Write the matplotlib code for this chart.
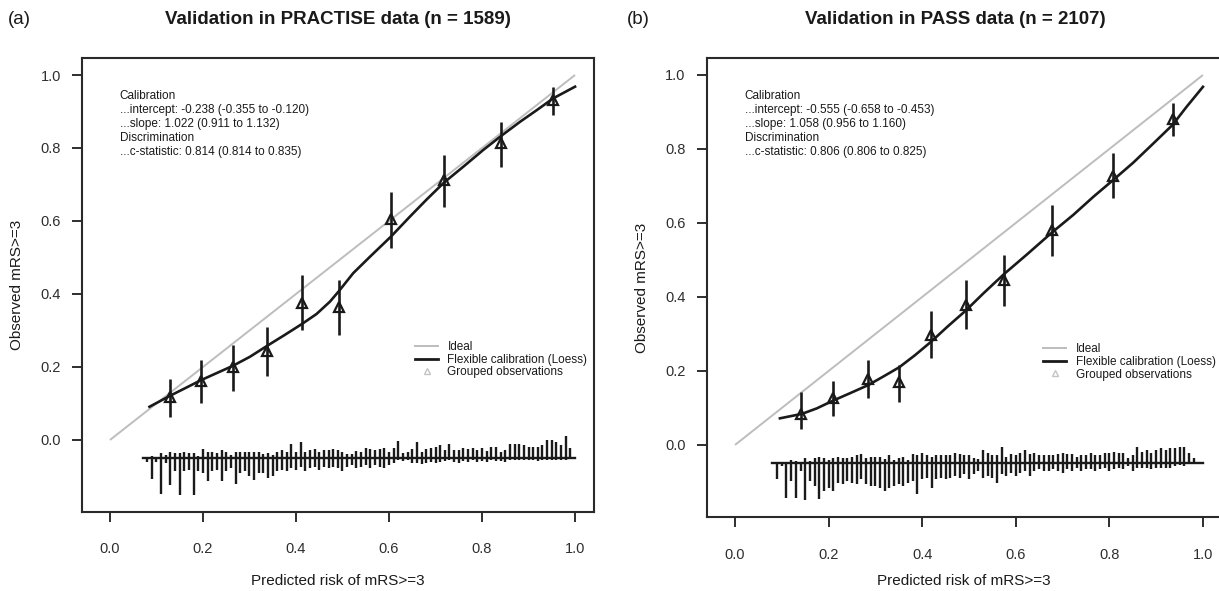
import numpy as np
import matplotlib
matplotlib.use("Agg")
import matplotlib.pyplot as plt
from matplotlib.lines import Line2D

plt.rcParams['font.family'] = ['Liberation Sans', 'DejaVu Sans']

# ---------------- Panel (a): PRACTISE ----------------
a_title = "Validation in PRACTISE data (n = 1589)"
a_stats = ["Calibration",
           "...intercept: -0.238 (-0.355 to -0.120)",
           "...slope: 1.022 (0.911 to 1.132)",
           "Discrimination",
           "...c-statistic: 0.814 (0.814 to 0.835)"]
a_grp_x = [0.129, 0.196, 0.264, 0.338, 0.413, 0.493, 0.604, 0.718, 0.841, 0.953]
a_grp_y = [0.119, 0.162, 0.199, 0.245, 0.374, 0.365, 0.605, 0.712, 0.813, 0.932]
a_grp_lo = [0.064, 0.102, 0.135, 0.175, 0.301, 0.288, 0.525, 0.639, 0.749, 0.890]
a_grp_hi = [0.167, 0.219, 0.260, 0.310, 0.452, 0.438, 0.680, 0.781, 0.872, 0.968]
a_loess_x = [0.085, 0.129, 0.165, 0.196, 0.229, 0.264, 0.301, 0.338, 0.376, 0.413,
             0.444, 0.473, 0.493, 0.523, 0.559, 0.604, 0.645, 0.681, 0.718, 0.760,
             0.803, 0.841, 0.882, 0.918, 0.953, 1.000]
a_loess_y = [0.091, 0.121, 0.144, 0.164, 0.183, 0.203, 0.228, 0.258, 0.288, 0.318,
             0.345, 0.379, 0.409, 0.457, 0.502, 0.557, 0.612, 0.659, 0.705, 0.749,
             0.795, 0.833, 0.872, 0.904, 0.936, 0.968]
a_bins = np.round(np.arange(0.08, 0.995, 0.01), 2)
a_events = [0, 7, 0, 15, 10, 20, 15, 15, 20, 15, 15, 8, 28, 20, 20, 15, 25, 20, 10, 20,
            18, 18, 20, 20, 20, 12, 15, 10, 20, 25, 20, 42, 20, 48, 20, 25, 27, 20, 25, 25,
            28, 25, 20, 12, 12, 22, 18, 32, 27, 25, 27, 30, 20, 32, 52, 15, 20, 27, 48, 20,
            28, 32, 35, 40, 25, 42, 25, 25, 30, 28, 30, 25, 30, 22, 35, 35, 20, 25, 42, 42,
            42, 40, 35, 35, 35, 40, 55, 55, 48, 40, 68, 32]
a_nonevents = [10, 63, 10, 108, 15, 80, 40, 110, 40, 35, 110, 40, 45, 70, 40, 35, 70, 40, 30, 78,
               45, 40, 55, 65, 45, 45, 60, 55, 40, 35, 40, 28, 35, 25, 38, 30, 25, 35, 25, 30,
               25, 28, 40, 25, 20, 30, 25, 20, 30, 20, 25, 28, 20, 15, 5, 8, 5, 15, 15, 18,
               15, 10, 15, 10, 8, 5, 10, 15, 8, 10, 5, 10, 8, 10, 5, 8, 8, 10, 5, 5,
               5, 5, 5, 5, 8, 5, 5, 5, 5, 5, 5, 2]

# ---------------- Panel (b): PASS ----------------
b_title = "Validation in PASS data (n = 2107)"
b_stats = ["Calibration",
           "...intercept: -0.555 (-0.658 to -0.453)",
           "...slope: 1.058 (0.956 to 1.160)",
           "Discrimination",
           "...c-statistic: 0.806 (0.806 to 0.825)"]
b_grp_x = [0.142, 0.210, 0.285, 0.351, 0.419, 0.493, 0.575, 0.677, 0.808, 0.935]
b_grp_y = [0.085, 0.127, 0.179, 0.170, 0.298, 0.379, 0.446, 0.581, 0.727, 0.881]
b_grp_lo = [0.043, 0.079, 0.127, 0.115, 0.235, 0.314, 0.376, 0.512, 0.667, 0.834]
b_grp_hi = [0.142, 0.172, 0.230, 0.217, 0.361, 0.447, 0.513, 0.648, 0.788, 0.925]
b_loess_x = [0.096, 0.143, 0.175, 0.210, 0.246, 0.285, 0.317, 0.351, 0.385, 0.419,
             0.456, 0.493, 0.531, 0.575, 0.623, 0.677, 0.723, 0.766, 0.808, 0.851,
             0.894, 0.935, 0.965, 1.000]
b_loess_y = [0.072, 0.084, 0.099, 0.120, 0.140, 0.162, 0.185, 0.210, 0.243, 0.279,
             0.322, 0.363, 0.410, 0.462, 0.514, 0.574, 0.622, 0.671, 0.716, 0.763,
             0.815, 0.865, 0.914, 0.968]
b_bins = np.round(np.arange(0.09, 0.995, 0.01), 2)
b_events = [0, 5, 5, 10, 8, 5, 15, 8, 15, 20, 15, 10, 15, 20, 15, 15, 20, 25, 28, 15,
            20, 18, 20, 12, 25, 10, 15, 20, 10, 28, 25, 30, 25, 20, 25, 25, 25, 25, 30, 28,
            25, 25, 15, 12, 40, 30, 25, 25, 50, 20, 28, 25, 30, 40, 28, 30, 25, 25, 25, 25,
            28, 30, 28, 28, 20, 25, 25, 30, 25, 25, 30, 30, 35, 30, 30, 15, 25, 50, 35, 40,
            30, 40, 45, 40, 45, 45, 50, 50, 30, 15, 5]
b_nonevents = [48, 8, 103, 53, 105, 23, 111, 53, 68, 108, 83, 73, 83, 58, 63, 53, 58, 63, 48, 63,
               68, 68, 73, 83, 73, 68, 63, 68, 58, 53, 91, 48, 43, 73, 48, 43, 48, 43, 38, 43,
               33, 48, 33, 23, 43, 38, 43, 58, 33, 38, 28, 38, 28, 23, 38, 23, 18, 23, 23, 18,
               23, 28, 18, 23, 13, 23, 18, 18, 23, 18, 13, 23, 18, 13, 18, 8, 23, 13, 13, 13,
               18, 13, 13, 13, 13, 8, 6, 8, 3, 3, 1]

legend_labels = ["Ideal", "Flexible calibration (Loess)", "Grouped observations"]
x_ticks = [0.0, 0.2, 0.4, 0.6, 0.8, 1.0]
y_ticks = [0.0, 0.2, 0.4, 0.6, 0.8, 1.0]
x_label = "Predicted risk of mRS>=3"
y_label = "Observed mRS>=3"

INK = "#1a1a1a"
TICKINK = "#2e2e2e"
IDEAL = "#bdbdbd"

fig = plt.figure(figsize=(12.19, 5.91), dpi=100)
ax_a = fig.add_axes([0.0670, 0.1345, 0.4203, 0.767])
ax_b = fig.add_axes([0.5796, 0.1244, 0.4229, 0.7775])


def draw(ax, gx, gy, glo, ghi, lx, ly, bins, ev, nev, stats, leg_anchor, stat_y, xlab_y):
    ax.plot([0, 1], [0, 1], color=IDEAL, lw=1.4, solid_capstyle='butt', zorder=1)
    ax.plot(lx, ly, color=INK, lw=1.9, zorder=3)
    ax.vlines(gx, glo, ghi, color=INK, lw=1.9, zorder=3)
    ax.plot(gx, gy, ls='none', marker='^', mfc='none', mec=INK, ms=7.5, mew=1.6, zorder=4)
    f1 = np.array(ev, dtype=float)
    f0 = np.array(nev, dtype=float)
    m = max(f1.max(), f0.max())
    base = -0.05
    ax.vlines(bins, base, base + 0.1 * f1 / m, color=INK, lw=1.7)
    ax.vlines(bins, base, base - 0.1 * f0 / m, color=INK, lw=1.7)
    ax.plot([bins[0] - 0.01, bins[-1] + 0.01], [base, base], color=INK, lw=1.7)

    ax.set_xlim(-0.0608, 1.0408)
    ax.set_ylim(-0.196, 1.046)
    ax.set_xticks(x_ticks)
    ax.set_yticks(y_ticks)
    ax.set_xticklabels([f"{t:.1f}" for t in x_ticks])
    ax.set_yticklabels([f"{t:.1f}" for t in y_ticks])
    ax.tick_params(direction='out', length=7, width=1.4, labelsize=10.5,
                   colors=TICKINK)
    ax.tick_params(axis='x', pad=15)
    ax.tick_params(axis='y', pad=8)
    for s in ax.spines.values():
        s.set_linewidth(1.5)
        s.set_color("#2a2a2a")
    ax.set_xlabel(x_label, fontsize=11, color=INK)
    ax.xaxis.set_label_coords(0.5, xlab_y)
    ax.set_ylabel(y_label, fontsize=11, color=INK, labelpad=12)

    for i, line in enumerate(stats):
        ax.annotate(line, xy=(0.021, stat_y), xycoords='data',
                    xytext=(0, -i * 10.1), textcoords='offset points',
                    fontsize=8.5, color=INK, va='center', ha='left')

    handles = [Line2D([], [], color=IDEAL, lw=1.4),
               Line2D([], [], color=INK, lw=2.0),
               Line2D([], [], ls='none', marker='^', mfc='none', mec='#c4c4c4',
                      ms=5, mew=1.0)]
    ax.legend(handles, legend_labels, loc='upper left', bbox_to_anchor=leg_anchor,
              frameon=False, fontsize=8.5, handlelength=1.95, handletextpad=0.8,
              labelspacing=0.05, borderpad=0, borderaxespad=0, labelcolor=INK)


draw(ax_a, a_grp_x, a_grp_y, a_grp_lo, a_grp_hi, a_loess_x, a_loess_y,
     a_bins, a_events, a_nonevents, a_stats, (0.6506, 0.376), 0.942, -0.138)
draw(ax_b, b_grp_x, b_grp_y, b_grp_lo, b_grp_hi, b_loess_x, b_loess_y,
     b_bins, b_events, b_nonevents, b_stats, (0.6528, 0.379), 0.943, -0.124)

fig.text(338 / 1219, 1 - 19 / 591, a_title, ha='center', va='center',
         fontsize=13.5, fontweight='bold', color=INK)
fig.text(955 / 1219, 1 - 19 / 591, b_title, ha='center', va='center',
         fontsize=13.5, fontweight='bold', color=INK)
fig.text(8 / 1219, 1 - 19 / 591, "(a)", ha='left', va='center', fontsize=13.5, color=INK)
fig.text(627 / 1219, 1 - 19 / 591, "(b)", ha='left', va='center', fontsize=13.5, color=INK)

fig.savefig("out.png", dpi=100)
